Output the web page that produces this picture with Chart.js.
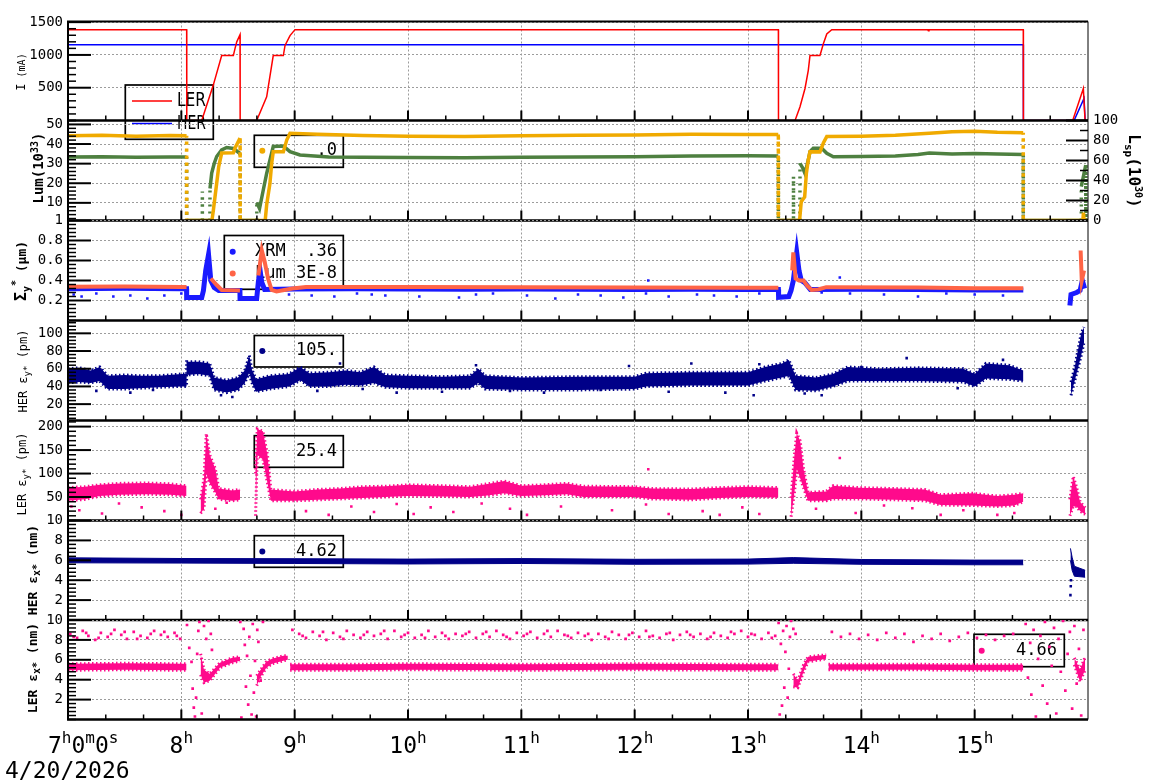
<!DOCTYPE html>
<html><head><meta charset="utf-8"><title>Beam monitor 4/20/2026</title>
<script src="https://cdn.jsdelivr.net/npm/chart.js@4.4.1/dist/chart.umd.min.js"></script>
<style>html,body{margin:0;padding:0;background:#fff;}#wrap{position:relative;width:1160px;height:782px;overflow:hidden;background:#fff;}#wrap canvas{position:absolute;left:0;top:0;}</style>
</head><body><div id="wrap"></div>
<script>
// ---------------- DATA (time in hours) ----------------
const hourT = [7,8,9,10,11,12,13,14,15];
const hourLabelParts = [['7','h','0','m','0','s'],['8','h'],['9','h'],['10','h'],['11','h'],['12','h'],['13','h'],['14','h'],['15','h']];
const dateLabel = '4/20/2026';

// Panel 1: beam currents (mA)
const lerCurT = [7.0,8.047,8.048,8.180,8.282,8.356,8.459,8.474,8.489,8.518,8.519,8.665,8.753,8.811,8.900,8.915,8.959,9.003,13.268,13.269,13.415,13.459,13.503,13.532,13.547,13.635,13.665,13.695,13.739,14.585,14.591,14.597,15.429,15.43,15.865,15.959,15.974];
const lerCurV = [1386,1386,0,0,540,990,990,1100,1200,1310,0,0,360,990,990,1144,1295,1386,1386,0,0,210,488,765,992,992,1170,1321,1386,1386,1370,1386,1386,0,0,488,0];
const herCurT = [7.0,15.429,15.43,15.877,15.965,15.975];
const herCurV = [1155,1155,0,0,336,0];

// Panel 2: luminosity (left) and specific luminosity (right)
const lumT = [7.0,7.3,7.6,7.9,8.046,8.047,8.27,8.282,8.312,8.33,8.356,8.459,8.474,8.518,8.519,8.74,8.753,8.782,8.797,8.811,8.900,8.93,8.959,9.2,9.6,10.0,10.5,11.0,11.5,12.0,12.5,13.0,13.267,13.268,13.455,13.47,13.50,13.515,13.532,13.547,13.635,13.665,13.695,14.0,14.3,14.6,14.8,15.0,15.2,15.428,15.429,15.955,15.96,15.965,16.0];
const lumV = [44.2,44.5,44.0,44.4,44.2,1,1,6,20,28.5,35.4,35.5,38,43,1,1,9,20,30,36,36,42,45.5,45,44.3,44,43.8,44.2,44.5,44.6,45,44.8,44.8,1,1,10.6,13,25,32,36.1,36,40.5,43.8,44,44.5,45.5,46.3,46.5,46,45.8,1,1,5,1,1];
const lspT = [7.0,7.3,7.6,7.9,8.046,8.047,8.184,8.185,8.186,8.252,8.253,8.268,8.29,8.312,8.356,8.400,8.459,8.518,8.519,8.665,8.666,8.69,8.723,8.753,8.782,8.811,8.900,8.959,9.047,9.3,9.6,10.0,10.5,11.0,11.5,12.0,12.5,13.0,13.267,13.268,13.40,13.401,13.402,13.458,13.459,13.485,13.503,13.532,13.547,13.576,13.650,13.695,13.753,14.0,14.3,14.5,14.6,14.8,15.0,15.2,15.428,15.429,15.94,15.941,15.98,15.981,16.0];
const lspV = [63.5,63.8,63.2,63.6,63.5,0,0,29,0,0,32,47.5,57,64,70.5,73,72,67,0,0,18,12,30.5,47,60.5,74,74.5,68.8,65.5,63.5,63.2,63,62.8,63.2,63.5,63.8,64.5,64.8,64.5,0,0,44,0,0,57.2,52,47,60.5,68.8,72.2,72.2,67.2,63.8,64,64.5,66,67.5,66.5,67,66.5,66,0,0,33.8,55.5,0,0];

// Panel 3: vertical beam size (um)
const xrmT = [7.0,7.5,8.0,8.046,8.047,8.180,8.195,8.215,8.24,8.26,8.29,8.33,8.517,8.518,8.665,8.68,8.695,8.71,8.735,9.0,9.5,10.0,10.5,11.0,11.5,12.0,12.5,13.0,13.268,13.27,13.36,13.38,13.40,13.43,13.45,13.47,13.50,13.55,14.0,14.5,15.0,15.429,15.43,15.84,15.85,15.9,15.93,15.95,15.97];
const xrmV = [0.318,0.322,0.318,0.318,0.23,0.23,0.30,0.50,0.66,0.40,0.33,0.30,0.30,0.22,0.22,0.39,0.50,0.38,0.31,0.315,0.318,0.315,0.312,0.315,0.312,0.31,0.312,0.31,0.31,0.233,0.24,0.30,0.40,0.68,0.50,0.40,0.38,0.31,0.312,0.31,0.305,0.305,null,0.15,0.26,0.28,0.30,0.40,0.32];
const sigLumT = [7.0,7.5,8.0,8.046,8.047,8.26,8.312,8.356,8.517,8.518,8.68,8.71,8.735,8.765,8.797,8.84,8.98,9.1,10.0,11.0,12.0,13.0,13.268,13.269,13.39,13.40,13.42,13.45,13.49,13.52,13.56,13.62,13.69,14.5,15.0,15.429,15.43,15.935,15.945,15.965];
const sigLumV = [0.338,0.34,0.336,0.336,null,0.42,0.355,0.305,0.30,null,0.45,0.70,0.59,0.42,0.305,0.29,0.32,0.335,0.335,0.333,0.33,0.327,0.327,null,0.50,0.68,0.42,0.40,0.40,0.35,0.305,0.31,0.333,0.33,0.323,0.323,null,0.70,0.40,0.50];
const xrmOut = [[7.05,0.26],[7.12,0.24],[7.25,0.27],[7.4,0.24],[7.55,0.25],[7.7,0.22],[7.85,0.25],[8.0,0.27],[8.95,0.26],[9.15,0.25],[9.35,0.24],[9.55,0.27],[9.68,0.26],[9.8,0.25],[10.1,0.24],[10.45,0.23],[10.6,0.26],[10.75,0.27],[11.05,0.25],[11.3,0.22],[11.5,0.26],[11.7,0.25],[11.9,0.23],[12.12,0.40],[12.1,0.27],[12.3,0.24],[12.55,0.26],[12.7,0.25],[12.9,0.24],[13.1,0.27],[13.65,0.28],[13.81,0.43],[13.9,0.27],[14.2,0.26],[14.5,0.24],[14.75,0.27],[15.0,0.26],[15.25,0.25]];

// Panel 4: HER vertical emittance (pm) band
const herEyT  = [7.0,7.1,7.2,7.28,7.35,7.5,7.63,7.8,8.0,8.046,8.047,8.15,8.25,8.29,8.4,8.5,8.56,8.6,8.62,8.66,8.78,8.95,9.05,9.13,9.3,9.45,9.58,9.7,9.8,10.0,10.3,10.55,10.62,10.68,11.0,11.5,12.0,12.1,12.5,13.0,13.15,13.3,13.36,13.42,13.6,13.75,13.88,14.15,14.5,14.9,15.0,15.1,15.3,15.43,15.44,15.85,15.88,15.91,15.94,15.965];
const herEyLo = [44,45,44,46,37,37,38,39,40,40,53,54,52,36,33,36,44,56,45,34,37,40,47,40,40,42,41,44,39,38,38,38,44,37,36,36,37,40,41,41,46,50,52,36,35,40,46,46,46,45,40,49,48,46,null,30,45,60,75,90];
const herEyHi = [60,61,58,62,52,53,52,52,54,54,68,68,66,50,47,50,58,75,60,48,52,54,62,55,56,58,56,62,53,52,51,52,60,52,50,51,51,55,56,56,62,66,70,52,50,54,62,60,61,60,54,66,64,58,null,45,60,80,100,107];
const herEyOut = [[7.25,35],[7.55,33],[7.75,36],[8.35,30],[8.45,28],[9.2,35],[9.4,66],[9.6,37],[9.9,33],[10.3,34],[10.6,64],[10.9,35],[11.2,33],[11.7,36],[11.95,63],[12.3,34],[12.5,66],[12.8,33],[13.05,30],[13.1,65],[13.45,36],[13.5,32],[13.65,30],[14.0,62],[14.4,72],[14.85,38],[15.25,70]];

// Panel 5: LER vertical emittance (pm) band
const lerEyT  = [7.0,7.15,7.28,7.45,7.7,7.9,8.046,8.047,8.17,8.20,8.22,8.25,8.30,8.33,8.45,8.518,8.519,8.655,8.67,8.72,8.76,8.79,9.0,9.2,9.4,9.6,9.8,10.0,10.3,10.55,10.7,10.85,11.0,11.2,11.4,11.55,12.0,12.15,12.5,12.75,13.0,13.268,13.269,13.38,13.41,13.43,13.46,13.49,13.53,13.69,13.75,13.98,14.3,14.56,14.7,14.98,15.2,15.35,15.429,15.43,15.84,15.87,15.90,15.93,15.975];
const lerEyLo = [42,45,52,55,56,55,52,null,15,25,100,80,60,45,42,44,null,10,140,130,80,42,42,44,46,48,50,52,51,50,53,58,52,54,56,50,50,46,44,48,50,49,null,8,60,110,90,70,42,42,46,46,44,42,33,32,30,32,40,null,10,30,30,20,13];
const lerEyHi = [70,72,76,79,80,78,74,null,45,90,185,140,110,68,64,66,null,100,195,190,140,66,62,66,68,72,73,76,74,72,78,84,74,76,79,73,72,68,67,70,72,70,null,48,140,186,170,110,60,62,74,70,68,66,55,58,52,55,58,null,45,94,70,40,27];
const lerEyOut = [[7.03,30],[7.1,22],[7.3,15],[7.45,36],[7.65,28],[7.85,20],[8.0,12],[8.3,25],[8.4,38],[9.1,20],[9.3,12],[9.5,30],[9.7,18],[9.9,35],[10.05,14],[10.2,28],[10.4,18],[10.65,36],[10.9,25],[11.05,12],[11.35,30],[11.8,22],[12.1,34],[12.3,14],[12.6,20],[12.75,12],[12.95,28],[13.1,14],[13.6,25],[13.95,16],[14.2,32],[14.45,26],[14.7,12],[14.9,22],[15.2,12],[15.35,16],[12.12,109],[13.81,133]];

// Panel 6: HER horizontal emittance (nm) band
const herExT  = [7.0,8.0,9.0,10.0,11.0,12.0,13.0,13.4,14.0,15.0,15.429,15.43,15.845,15.86,15.88,15.975];
const herExLo = [5.75,5.72,5.68,5.63,5.68,5.6,5.62,5.7,5.6,5.55,5.55,null,6.0,5.0,4.4,4.3];
const herExHi = [6.25,6.18,6.16,6.12,6.17,6.1,6.12,6.27,6.08,6.02,6.02,null,7.2,6.3,5.4,5.0];
const herExOut = [[15.845,2.5],[15.848,3.4],[15.85,4.0]];

// Panel 7: LER horizontal emittance (nm) band + sparse points
const lerExT  = [7.0,7.5,8.0,8.046,8.047,8.17,8.20,8.25,8.30,8.34,8.45,8.518,8.519,8.665,8.70,8.75,8.80,8.90,8.94,8.95,8.96,9.5,10.0,11.0,12.0,13.0,13.268,13.269,13.40,13.44,13.49,13.53,13.69,13.70,13.71,14.5,15.0,15.429,15.43,15.88,15.93,15.975];
const lerExLo = [4.95,5.0,4.95,4.95,null,4.5,3.7,3.9,4.6,5.2,5.7,5.9,null,3.4,4.3,5.2,5.6,5.9,6.0,null,4.95,4.95,5.0,4.95,5.0,4.95,4.95,null,3.3,3.2,4.8,5.8,6.1,null,5.0,5.0,4.95,4.95,null,5.5,3.8,5.0];
const lerExHi = [5.6,5.65,5.6,5.6,null,6.6,5.0,4.6,5.2,5.7,6.2,6.3,null,4.4,5.0,5.8,6.1,6.4,6.4,null,5.55,5.55,5.6,5.55,5.6,5.55,5.55,null,4.6,3.9,5.5,6.3,6.5,null,5.55,5.55,5.5,5.5,null,6.2,5.0,6.3];
const lerExUpper = [[7.02,8.6],[7.08,8.2],[7.13,8.9],[7.18,8.4],[7.24,8.0],[7.29,8.7],[7.35,8.3],[7.41,9.0],[7.47,8.5],[7.52,8.1],[7.58,8.8],[7.64,8.4],[7.7,8.2],[7.76,8.9],[7.82,8.5],[7.88,8.3],[7.94,8.7],[7.99,8.1],
 [7.05,8.3],[7.16,8.7],[7.27,8.2],[7.38,8.6],[7.5,8.8],[7.61,8.1],[7.73,8.6],[7.85,8.8],[7.96,8.4],
 [8.98,9.0],[9.04,8.6],[9.1,8.2],[9.16,8.8],[9.22,8.4],[9.28,8.0],[9.34,8.7],[9.4,8.3],[9.46,8.9],[9.52,8.5],[9.58,8.2],[9.64,8.8],[9.7,8.4],[9.76,8.6],[9.82,8.1],[9.88,8.9],[9.94,8.3],[10.0,8.7],[10.06,8.2],[10.12,8.5],[10.18,8.9],[10.24,8.3],[10.3,8.7],[10.36,8.1],[10.42,8.6],[10.48,8.4],[10.54,8.8],[10.6,8.2],[10.66,8.6],[10.72,8.3],[10.78,8.9],[10.84,8.5],[10.9,8.1],[10.96,8.7],[11.02,8.4],[11.08,8.8],[11.14,8.2],[11.2,8.6],[11.26,8.3],[11.32,8.9],[11.38,8.5],[11.44,8.2],[11.5,8.7],[11.56,8.4],[11.62,8.0],[11.68,8.6],[11.74,8.3],[11.8,8.8],[11.86,8.5],[11.92,8.1],[11.98,8.7],[12.04,8.3],[12.1,8.9],[12.16,8.4],[12.22,8.2],[12.28,8.6],[12.34,8.0],[12.4,8.5],[12.46,8.8],[12.52,8.3],[12.58,8.6],[12.64,8.1],[12.7,8.7],[12.76,8.4],[12.82,8.2],[12.88,8.6],[12.94,8.9],[13.0,8.3],[13.06,8.5],[13.12,8.1],[13.18,8.7],[13.24,8.4],
 [9.07,8.4],[9.25,8.8],[9.43,8.1],[9.61,8.5],[9.79,8.9],[9.97,8.5],[10.15,8.2],[10.33,8.4],[10.51,8.6],[10.69,8.8],[10.87,8.3],[11.05,8.6],[11.23,8.9],[11.41,8.4],[11.59,8.6],[11.77,8.1],[11.95,8.5],[12.13,8.3],[12.31,8.7],[12.49,8.5],[12.67,8.3],[12.85,8.8],[13.03,8.6],[13.21,8.2],
 [13.74,8.8],[13.82,8.3],[13.9,8.6],[13.98,8.1],[14.06,8.5],[14.14,8.0],[14.22,8.7],[14.3,8.2],[14.38,8.6],[14.46,7.8],[14.54,8.4],[14.62,8.1],[14.7,8.6],[14.78,7.9],[14.86,8.3],[14.94,8.7],[15.02,8.2],[15.1,8.5],[15.18,8.0],[15.26,8.4],[15.34,8.6]];
const lerExCloud = [[8.05,9.5],[8.07,7.2],[8.09,5.8],[8.1,3.1],[8.11,1.2],[8.12,0.3],[8.13,2.2],[8.14,6.6],[8.15,8.9],[8.16,9.8],[8.18,0.6],[8.2,9.4],[8.22,8.1],[8.24,9.9],[8.26,8.6],[8.27,7.0],
 [8.52,9.8],[8.53,0.2],[8.55,9.1],[8.56,7.5],[8.57,3.3],[8.58,6.4],[8.59,1.5],[8.6,8.3],[8.61,4.4],[8.62,0.5],[8.63,9.6],[8.64,2.7],[8.65,5.9],[8.66,0.3],[8.67,9.0],[8.68,7.8],[8.7,3.9],[8.72,9.8],
 [13.27,9.7],[13.28,0.5],[13.29,7.6],[13.3,1.4],[13.31,8.9],[13.32,3.2],[13.33,6.8],[13.34,9.4],[13.35,2.2],[13.36,5.1],[13.37,8.3],[13.38,9.9],[13.4,9.1],[13.42,8.6],
 [15.45,9.6],[15.47,4.2],[15.49,7.7],[15.5,2.5],[15.52,9.0],[15.54,0.3],[15.56,6.1],[15.58,8.4],[15.6,3.4],[15.62,9.8],[15.64,1.6],[15.66,7.3],[15.68,5.4],[15.7,9.2],[15.72,0.6],[15.74,8.1],[15.76,4.8],[15.78,9.9],[15.8,2.9],[15.82,6.6],[15.84,8.8],[15.86,1.1],[15.88,9.4],[15.9,3.6],[15.92,7.1],[15.94,0.4],[15.96,9.0]];

// Legend readouts
const legendText = {lum:'.0', xrm:'XRM  .36', sigLum:'Lum 3E-8', herEy:'105.', lerEy:'25.4', herEx:'4.62', lerEx:'4.66'};

// ---------------- RENDERING ----------------
const W = 1160, H = 782;
const MONO = "'DejaVu Sans Mono', monospace";
const GRID = '#9c9c9c';
const C = {red:'#ff0000', blue:'#0000ff', gold:'#f0aa00', green:'#4e8040', xblue:'#1a1aff', tomato:'#ff6446', navy:'#000088', pink:'#ff0a8c'};

function pts(t, v){ return t.map((x,i)=>({x:x, y:v[i]})); }
function pairPts(p){ return p.map(a=>({x:a[0], y:a[1]})); }
function lineDs(t, v, color, w, extra){ return Object.assign({data:pts(t,v), borderColor:color, backgroundColor:color, borderWidth:w, pointRadius:0, tension:0, fill:false, spanGaps:false}, extra||{}); }
// filled band between lo and hi; ragged (dashed) edges imitate the scatter of the points
function bandDs(t, lo, hi, color, fringe){
  const e = fringe ? {borderWidth:3, borderDash:[1.5,2.5]} : {borderWidth:1};
  return [lineDs(t,lo,color,1,e), lineDs(t,hi,color,1,Object.assign({fill:'-1'}, e))];
}
function dotDs(p, color, r, extra){ return Object.assign({data:pairPts(p), showLine:false, pointRadius:r||1.8, pointStyle:'rect', pointBackgroundColor:color, pointBorderWidth:0, borderColor:color, backgroundColor:color}, extra||{}); }
const dropDash = {borderDash: ctx => (ctx.p1.parsed.x - ctx.p0.parsed.x) < 0.003 ? [2,5] : undefined};

function drawRich(ctx, segs, cx, cy, rot){
  ctx.save(); ctx.translate(cx, cy); ctx.rotate(rot); ctx.fillStyle = '#000'; ctx.textBaseline = 'alphabetic'; ctx.textAlign = 'left';
  let w = 0;
  segs.forEach(s => { ctx.font = (s.b?'bold ':'') + s.sz + 'px ' + MONO; s.w = ctx.measureText(s.t).width; w += s.w; });
  let x = -w/2; const base = segs[0].sz * 0.36;
  segs.forEach(s => { ctx.font = (s.b?'bold ':'') + s.sz + 'px ' + MONO; ctx.fillText(s.t, x, base + (s.dy||0)); x += s.w; });
  ctx.restore();
}
function drawLegend(ctx, lg){
  ctx.save();
  ctx.lineWidth = 1.7; ctx.strokeStyle = '#000';
  const b = lg.box; ctx.strokeRect(b[0], b[1], b[2]-b[0], b[3]-b[1]);
  lg.items.forEach(it => {
    if (it.kind === 'line') { ctx.strokeStyle = it.color; ctx.lineWidth = 1.5; ctx.beginPath(); ctx.moveTo(it.mx0, it.my); ctx.lineTo(it.mx1, it.my); ctx.stroke(); }
    else { ctx.fillStyle = it.color; ctx.beginPath(); ctx.arc(it.mx, it.my, 3, 0, Math.PI*2); ctx.fill(); }
    ctx.fillStyle = '#000'; ctx.font = it.font; ctx.textAlign = it.align; ctx.textBaseline = 'middle';
    if (it.maxW) ctx.fillText(it.text, it.tx, it.ty, it.maxW); else ctx.fillText(it.text, it.tx, it.ty);
  });
  ctx.restore();
}
function minorList(min, max, step, majors){
  const out = []; const n0 = Math.ceil(min/step - 1e-9), n1 = Math.floor(max/step + 1e-9);
  for (let n = n0; n <= n1; n++) { const v = +(n*step).toFixed(6); if (!majors.some(m => Math.abs(m - v) < step*0.01)) out.push(v); }
  return out;
}
function drawTicks(chart, p){
  const ctx = chart.ctx, a = chart.chartArea, xs = chart.scales.x, ys = chart.scales.y;
  ctx.save(); ctx.strokeStyle = '#000'; ctx.lineCap = 'butt';
  const hl = (x0,x1,y,w) => { ctx.lineWidth = w; ctx.beginPath(); ctx.moveTo(x0,y); ctx.lineTo(x1,y); ctx.stroke(); };
  const vl = (x,y0,y1,w) => { ctx.lineWidth = w; ctx.beginPath(); ctx.moveTo(x,y0); ctx.lineTo(x,y1); ctx.stroke(); };
  minorList(p.min, p.max, p.minorStep, p.ticks).forEach(v => hl(a.left, a.left+8, ys.getPixelForValue(v), 1.5));
  p.ticks.forEach(v => hl(a.left, a.left+23, ys.getPixelForValue(v), 2));
  if (p.right) {
    const r = p.right, y2 = chart.scales.y2;
    minorList(r.min, r.max, r.minorStep, r.ticks).forEach(v => hl(a.right-8, a.right, y2.getPixelForValue(v), 1.5));
    r.ticks.forEach(v => hl(a.right-22, a.right, y2.getPixelForValue(v), 2));
  }
  hourT.forEach(h => {
    vl(xs.getPixelForValue(h), a.bottom, a.bottom-10, 2);
    [1/3, 2/3].forEach(f => vl(xs.getPixelForValue(h+f), a.bottom, a.bottom-5, 1.5));
  });
  vl(a.left, a.top, a.bottom, 2);
  vl(a.right, a.top, a.bottom, 1);
  hl(a.left-1, a.right, a.bottom, 2.5);
  if (p.topLine) hl(a.left-1, a.right, a.top, 2);
  ctx.restore();
}
function drawHourLabels(chart){
  const ctx = chart.ctx, xs = chart.scales.x;
  ctx.save(); ctx.fillStyle = '#000'; ctx.textBaseline = 'alphabetic'; ctx.textAlign = 'left';
  hourT.forEach((h,i) => {
    const parts = hourLabelParts[i]; let w = 0;
    const ws = parts.map((s,k) => { ctx.font = (k%2 ? 16 : 23) + 'px ' + MONO; const m = ctx.measureText(s).width; w += m; return m; });
    let x = i === 0 ? 48 : xs.getPixelForValue(h) - w/2;
    parts.forEach((s,k) => { ctx.font = (k%2 ? 16 : 23) + 'px ' + MONO; ctx.fillText(s, x, k%2 ? 742.5 : 753); x += ws[k]; });
  });
  ctx.font = '23px ' + MONO; ctx.fillText(dateLabel, 5, 778);
  ctx.restore();
}

const numFont = '17px ' + MONO;
// NOTE: Chart.js paints the first dataset on top
const panels = [
  { top:21.5, bottom:120.5, min:0, max:1510, ticks:[500,1000,1500], minorStep:100, topLine:true,
    title:{segs:[{t:'I',sz:12},{t:' (mA)',sz:10}], x:21, y:72},
    legend:{box:[125.3,85,213.3,139.3], items:[
      {kind:'line', color:C.red, mx0:132, mx1:172, my:101, text:'LER', tx:177, ty:101, align:'left', font:'19px "DejaVu Sans"', maxW:29},
      {kind:'line', color:C.blue, mx0:132, mx1:172, my:123.5, text:'HER', tx:177, ty:124, align:'left', font:'19px "DejaVu Sans"', maxW:29}]},
    datasets:[ lineDs(lerCurT, lerCurV, C.red, 1.5), lineDs(herCurT, herCurV, C.blue, 1.5) ] },
  { top:120.5, bottom:220.5, min:1, max:52, ticks:[10,20,30,40,50], minorStep:2,
    right:{min:0, max:100, ticks:[0,20,40,60,80,100], minorStep:10,
      title:{segs:[{t:'L',sz:16,b:1},{t:'sp',sz:11,b:1,dy:4},{t:'(10',sz:16,b:1},{t:'30',sz:10,b:1,dy:-6},{t:')',sz:16,b:1}], x:1135, y:171}},
    title:{segs:[{t:'Lum(10',sz:14,b:1},{t:'33',sz:10,b:1,dy:-5},{t:')',sz:14,b:1}], x:38, y:168},
    legend:{box:[254.3,135.3,343.3,167.3], items:[{kind:'dot', color:C.gold, mx:262.3, my:150.7, text:legendText.lum, tx:337, ty:151, align:'right', font:numFont}]},
    datasets:[ lineDs(lumT, lumV, C.gold, 3.5, {segment:dropDash}), lineDs(lspT, lspV, C.green, 3.5, {yAxisID:'y2', segment:dropDash}) ] },
  { top:220.5, bottom:320.5, min:0, max:1, ticks:[0.2,0.4,0.6,0.8,1], minorStep:0.04,
    title:{segs:[{t:'Σ',sz:15,b:1},{t:'y',sz:10,b:1,dy:4},{t:'*',sz:10,b:1,dy:-7},{t:' (μm)',sz:13,b:1}], x:21, y:271},
    legend:{box:[224.3,235.5,343.3,289.3], items:[
      {kind:'dot', color:C.xblue, mx:232.7, my:251.7, text:legendText.xrm, tx:337, ty:252, align:'right', font:numFont},
      {kind:'dot', color:C.tomato, mx:232.7, my:273.5, text:legendText.sigLum, tx:337, ty:274, align:'right', font:numFont}]},
    datasets:[ lineDs(sigLumT, sigLumV, C.tomato, 4), lineDs(xrmT, xrmV, C.xblue, 5), dotDs(xrmOut, C.xblue, 1.8) ] },
  { top:320.5, bottom:420.5, min:1.5, max:114.5, ticks:[20,40,60,80,100], minorStep:4,
    title:{segs:[{t:'HER ε',sz:12},{t:'y*',sz:9,dy:3},{t:' (pm)',sz:12}], x:23, y:371},
    legend:{box:[254.3,335.5,343.3,367], items:[{kind:'dot', color:C.navy, mx:262.3, my:351, text:legendText.herEy, tx:337, ty:351, align:'right', font:numFont}]},
    datasets:[ ...bandDs(herEyT, herEyLo, herEyHi, C.navy, true), dotDs(herEyOut, C.navy, 1.8) ] },
  { top:420.5, bottom:520.5, min:0, max:213, ticks:[50,100,150,200], minorStep:10,
    title:{segs:[{t:'LER ε',sz:12},{t:'y*',sz:9,dy:3},{t:' (pm)',sz:12}], x:22, y:474},
    legend:{box:[254.3,435.7,343.3,467.3], items:[{kind:'dot', color:C.pink, mx:262.3, my:451.5, text:legendText.lerEy, tx:337, ty:451.5, align:'right', font:numFont}]},
    datasets:[ ...bandDs(lerEyT, lerEyLo, lerEyHi, C.pink, true), dotDs(lerEyOut, C.pink, 1.8) ] },
  { top:520.5, bottom:620, min:0, max:10, ticks:[2,4,6,8,10], minorStep:0.4,
    title:{segs:[{t:'HER ε',sz:13,b:1},{t:'x*',sz:10,b:1,dy:3},{t:' (nm)',sz:13,b:1}], x:32, y:570},
    legend:{box:[254.3,535.7,343.3,567.3], items:[{kind:'dot', color:C.navy, mx:262.3, my:551.5, text:legendText.herEx, tx:337, ty:551.5, align:'right', font:numFont}]},
    datasets:[ ...bandDs(herExT, herExLo, herExHi, C.navy, false), dotDs(herExOut, C.navy, 1.8) ] },
  { top:620, bottom:719.5, min:0, max:10, ticks:[2,4,6,8,10], minorStep:0.4, hours:true,
    title:{segs:[{t:'LER ε',sz:13,b:1},{t:'x*',sz:10,b:1,dy:3},{t:' (nm)',sz:13,b:1}], x:32, y:668},
    legend:{box:[974,634.3,1064.3,666.7], items:[{kind:'dot', color:C.pink, mx:981.7, my:650.7, text:legendText.lerEx, tx:1057, ty:651, align:'right', font:numFont}]},
    datasets:[ ...bandDs(lerExT, lerExLo, lerExHi, C.pink, true), dotDs(lerExUpper, C.pink, 1.9), dotDs(lerExCloud, C.pink, 1.9) ] }
];

const wrap = document.getElementById('wrap');
panels.forEach((p, idx) => {
  const cv = document.createElement('canvas');
  cv.width = W; cv.height = H; cv.style.width = W + 'px'; cv.style.height = H + 'px';
  wrap.appendChild(cv);
  const scales = {
    x: { type:'linear', min:7, max:16, display:true,
         afterBuildTicks: s => { s.ticks = hourT.map(v => ({value:v})); },
         afterFit: s => { s.height = 0; },
         ticks:{display:false}, grid:{color:GRID, lineWidth:1, drawTicks:false}, border:{display:false, dash:[2,2]} },
    y: { type:'linear', position:'left', min:p.min, max:p.max,
         afterBuildTicks: s => { s.ticks = p.ticks.map(v => ({value:v})); },
         afterFit: s => { s.width = 68; },
         ticks:{font:{family:MONO, size:14}, color:'#000', padding:5, autoSkip:false, callback: v => String(v)},
         grid:{color:GRID, lineWidth:1, drawTicks:false}, border:{display:false, dash:[2,2]} }
  };
  if (p.right) {
    scales.y2 = { type:'linear', position:'right', min:p.right.min, max:p.right.max,
      afterBuildTicks: s => { s.ticks = p.right.ticks.map(v => ({value:v})); },
      afterFit: s => { s.width = 72; },
      ticks:{font:{family:MONO, size:14}, color:'#000', padding:5, autoSkip:false, callback: v => String(v)},
      grid:{display:false, drawTicks:false}, border:{display:false} };
  }
  const plug = {
    id:'deco' + idx,
    beforeDatasetsDraw(chart){ drawLegend(chart.ctx, p.legend); },
    afterDraw(chart){
      drawTicks(chart, p);
      drawRich(chart.ctx, p.title.segs, p.title.x, p.title.y, -Math.PI/2);
      if (p.right) drawRich(chart.ctx, p.right.title.segs, p.right.title.x, p.right.title.y, Math.PI/2);
      if (p.hours) drawHourLabels(chart);
    }
  };
  new Chart(cv, {
    type:'line',
    data:{ datasets:p.datasets },
    options:{
      responsive:false, maintainAspectRatio:false, animation:false, devicePixelRatio:1, events:[],
      layout:{ padding:{ left:0, right: p.right ? 0 : 72, top:p.top, bottom:H - p.bottom } },
      plugins:{ legend:{display:false}, tooltip:{enabled:false}, title:{display:false} },
      scales:scales
    },
    plugins:[plug]
  });
});
</script></body></html>
